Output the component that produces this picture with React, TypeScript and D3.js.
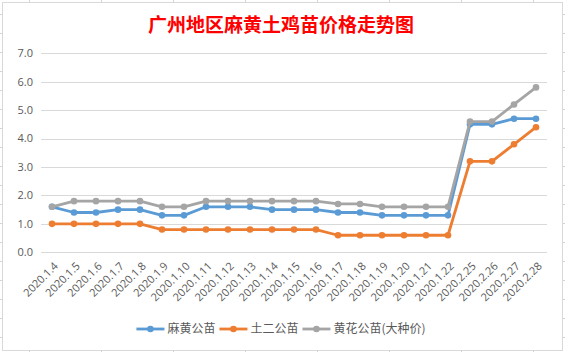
import * as d3 from "d3";
import { useEffect, useRef } from "react";

const dates = [
  "2020.1.4", "2020.1.5", "2020.1.6", "2020.1.7", "2020.1.8", "2020.1.9",
  "2020.1.10", "2020.1.11", "2020.1.12", "2020.1.13", "2020.1.14", "2020.1.15",
  "2020.1.16", "2020.1.17", "2020.1.18", "2020.1.19", "2020.1.20", "2020.1.21",
  "2020.1.22", "2020.2.25", "2020.2.26", "2020.2.27", "2020.2.28",
];
const mahuang = [1.6, 1.4, 1.4, 1.5, 1.5, 1.3, 1.3, 1.6, 1.6, 1.6, 1.5, 1.5, 1.5, 1.4, 1.4, 1.3, 1.3, 1.3, 1.3, 4.5, 4.5, 4.7, 4.7];
const tuer = [1.0, 1.0, 1.0, 1.0, 1.0, 0.8, 0.8, 0.8, 0.8, 0.8, 0.8, 0.8, 0.8, 0.6, 0.6, 0.6, 0.6, 0.6, 0.6, 3.2, 3.2, 3.8, 4.4];
const huanghua = [1.6, 1.8, 1.8, 1.8, 1.8, 1.6, 1.6, 1.8, 1.8, 1.8, 1.8, 1.8, 1.8, 1.7, 1.7, 1.6, 1.6, 1.6, 1.6, 4.6, 4.6, 5.2, 5.8];
const seriesNames = ["麻黄公苗", "土二公苗", "黄花公苗(大种价)"];
const colors = ["#5B9BD5", "#ED7D31", "#A5A5A5"];
const yTicks = [0, 1, 2, 3, 4, 5, 6, 7];

const W = 565;
const H = 352;
const LABEL_FONT = "'Open Sans', 'Noto Sans', sans-serif";
const CJK_FONT = "'Noto Sans CJK SC', sans-serif";

export default function App() {
  const svgRef = useRef<SVGSVGElement>(null);

  useEffect(() => {
    const svg = d3.select(svgRef.current);
    svg.selectAll("*").remove(); // clear

    svg.attr("width", W).attr("height", H);

    // spreadsheet grid behind the chart
    const sheet = svg.append("g").attr("stroke", "#d4d4d4").attr("stroke-width", 1);
    sheet.selectAll("line.col")
      .data(d3.range(29, W, 72))
      .enter()
      .append("line")
      .attr("x1", (d) => d + 0.5).attr("x2", (d) => d + 0.5)
      .attr("y1", 0).attr("y2", H);
    sheet.selectAll("line.row")
      .data(d3.range(14, H, 19))
      .enter()
      .append("line")
      .attr("y1", (d) => d + 0.5).attr("y2", (d) => d + 0.5)
      .attr("x1", 0).attr("x2", W);

    // chart area
    svg.append("rect")
      .attr("x", 2.5).attr("y", 2.5)
      .attr("width", 560).attr("height", 348)
      .attr("fill", "#fff")
      .attr("stroke", "#d9d9d9");

    const x = d3.scalePoint<string>().domain(dates).range([41, 547]).padding(0.5);
    const y = d3.scaleLinear().domain([0, 7]).range([252.3, 53.3]);

    // title
    svg.append("text")
      .attr("x", 281).attr("y", 32)
      .attr("text-anchor", "middle")
      .attr("fill", "#FF0000")
      .attr("font-family", CJK_FONT)
      .attr("font-weight", "bold")
      .attr("font-size", 19)
      .text("广州地区麻黄土鸡苗价格走势图");

    // gridlines + y labels
    const grid = svg.append("g");
    grid.selectAll("line")
      .data(yTicks)
      .enter()
      .append("line")
      .attr("x1", 41).attr("x2", 547)
      .attr("y1", (d) => Math.round(y(d)) + 0.5)
      .attr("y2", (d) => Math.round(y(d)) + 0.5)
      .attr("stroke", "#d9d9d9");
    grid.selectAll("text")
      .data(yTicks)
      .enter()
      .append("text")
      .attr("x", 33).attr("y", (d) => y(d))
      .attr("dy", "0.35em")
      .attr("text-anchor", "end")
      .attr("fill", "#595959")
      .attr("font-family", LABEL_FONT)
      .attr("font-size", 11)
      .text((d) => d3.format(".1f")(d));

    // x labels
    svg.append("g")
      .selectAll("text")
      .data(dates)
      .enter()
      .append("text")
      .attr("transform", (d) => `translate(${x(d)! + 4},${264}) rotate(-45)`)
      .attr("text-anchor", "end")
      .attr("dy", "0.35em")
      .attr("fill", "#595959")
      .attr("font-family", LABEL_FONT)
      .attr("font-size", 11)
      .text((d) => d);

    // series
    const allSeries = [mahuang, tuer, huanghua];
    const line = d3.line<number>()
      .x((_, i) => x(dates[i])!)
      .y((d) => y(d));

    allSeries.forEach((vals, si) => {
      const g = svg.append("g");
      g.append("path")
        .datum(vals)
        .attr("d", line)
        .attr("fill", "none")
        .attr("stroke", colors[si])
        .attr("stroke-width", 2.8)
        .attr("stroke-linejoin", "round");
      g.selectAll("circle")
        .data(vals)
        .enter()
        .append("circle")
        .attr("cx", (_, i) => x(dates[i])!)
        .attr("cy", (d) => y(d))
        .attr("r", 3.3)
        .attr("fill", colors[si]);
    });

    // legend
    const legend = svg.append("g");
    const items = seriesNames.map((name, i) => {
      const item = legend.append("g");
      item.append("line")
        .attr("x1", 0).attr("x2", 28)
        .attr("y1", 329).attr("y2", 329)
        .attr("stroke", colors[i])
        .attr("stroke-width", 2.8);
      item.append("circle")
        .attr("cx", 14).attr("cy", 329).attr("r", 3.3)
        .attr("fill", colors[i]);
      const t = item.append("text")
        .attr("x", 31).attr("y", 329)
        .attr("dy", "0.35em")
        .attr("fill", "#595959")
        .attr("font-family", CJK_FONT)
        .attr("font-size", 12)
        .text(name);
      const w = 31 + (t.node() as SVGTextElement).getComputedTextLength();
      return { item, w };
    });
    const gap = 4;
    const total = d3.sum(items, (d) => d.w) + gap * (items.length - 1);
    let cx = 281 - total / 2;
    items.forEach(({ item, w }) => {
      item.attr("transform", `translate(${cx},0)`);
      cx += w + gap;
    });
  }, []);

  return (
    <svg
      ref={svgRef}
      style={{ position: "fixed", left: 0, top: 0, display: "block" }}
    ></svg>
  );
}
